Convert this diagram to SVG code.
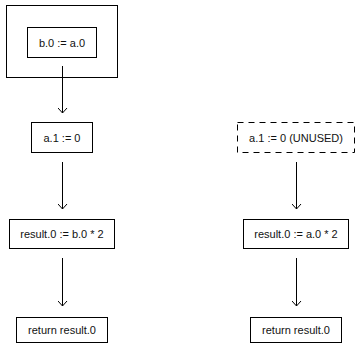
<svg xmlns="http://www.w3.org/2000/svg" width="356" height="344" viewBox="0 0 356 344">
<style>
.b{fill:#fff;stroke:#000;stroke-width:1}
.d{fill:#fff;stroke:#000;stroke-width:1;stroke-dasharray:6 5}
.t{font-family:"Liberation Sans",Arial,sans-serif;font-size:11px;fill:#111;text-anchor:middle;dominant-baseline:central}
.c{stroke:#000;stroke-width:1;fill:none;marker-end:url(#ah)}
</style>
<defs>
<marker id="ah" viewBox="0 0 10 10" refX="9" refY="5" markerWidth="10" markerHeight="10" markerUnits="userSpaceOnUse" orient="auto">
<path d="M4,0.5 L9,5 L4,9.5" fill="none" stroke="#000" stroke-width="1"/>
</marker>
</defs>
<rect x="0" y="0" width="356" height="344" fill="#fff"/>
<g id="outer">
<rect class="b" x="6.5" y="5.5" width="111" height="72"/>
</g>
<g id="n_b0">
<rect class="b" x="27.5" y="27.5" width="69" height="30"/>
<text class="t" x="62" y="42.5">b.0 := a.0</text>
</g>
<g id="n_a1">
<rect class="b" x="31.5" y="122.5" width="61" height="30"/>
<text class="t" x="62" y="137.5">a.1 := 0</text>
</g>
<g id="n_res_l">
<rect class="b" x="9.5" y="219.5" width="105" height="29"/>
<text class="t" x="62" y="234">result.0 := b.0 * 2</text>
</g>
<g id="n_ret_l">
<rect class="b" x="16.5" y="317.5" width="91" height="25"/>
<text class="t" x="62" y="330">return result.0</text>
</g>
<g id="n_a1u">
<rect class="d" x="237.5" y="122.5" width="117" height="30"/>
<text class="t" x="296" y="137.5">a.1 := 0 (UNUSED)</text>
</g>
<g id="n_res_r">
<rect class="b" x="243.5" y="219.5" width="105" height="29"/>
<text class="t" x="296" y="234">result.0 := a.0 * 2</text>
</g>
<g id="n_ret_r">
<rect class="b" x="250.5" y="317.5" width="91" height="25"/>
<text class="t" x="296" y="330">return result.0</text>
</g>
<g id="connectors">
<line class="c" x1="62.5" y1="66" x2="62.5" y2="113"/>
<line class="c" x1="62.5" y1="162" x2="62.5" y2="209"/>
<line class="c" x1="62.5" y1="258" x2="62.5" y2="306"/>
<line class="c" x1="296.5" y1="162" x2="296.5" y2="209"/>
<line class="c" x1="296.5" y1="258" x2="296.5" y2="306"/>
</g>
</svg>
